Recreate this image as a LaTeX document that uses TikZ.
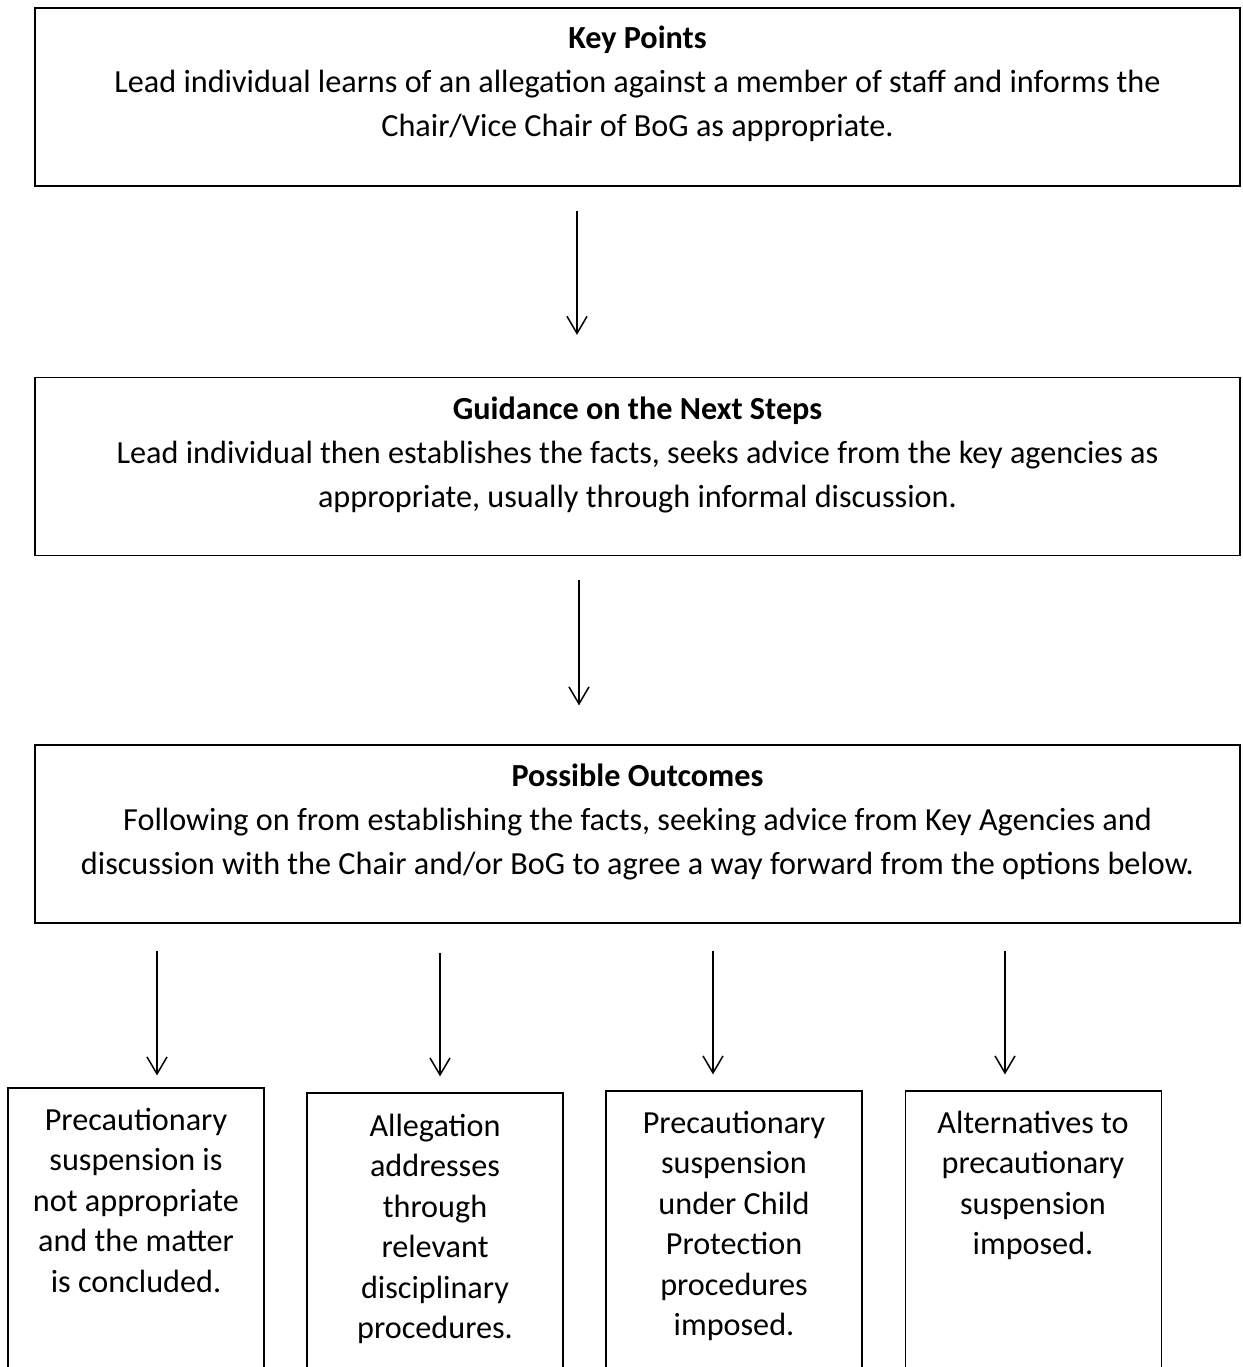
\documentclass[tikz,border=0pt]{standalone}
\usepackage{fontspec}
\setmainfont{Carlito}
\usetikzlibrary{arrows.meta}
\newcommand{\mylines}[1]{\begin{tabular}[t]{@{}c@{}}#1\end{tabular}}
\begin{document}
\begin{tikzpicture}[x=0.5pt,y=-0.5pt,
  bigbox/.style={draw=black,line width=0.65pt,minimum width=602.5pt,minimum height=89pt,inner sep=0pt},
  smallbox/.style={draw=black,line width=0.6pt,minimum width=128pt,minimum height=160pt,inner sep=0pt},
  txt/.style={anchor=base,inner sep=0pt,font=\fontsize{16.1pt}{22pt}\selectfont},
  txts/.style={anchor=base,inner sep=0pt,font=\fontsize{16.1pt}{20.25pt}\selectfont},
  arr/.style={line width=0.75pt,-{Straight Barb[length=8.5pt,width=10pt,line width=0.75pt]}}]
\useasboundingbox (0,0) rectangle (1243,1367);
\fill[white] (0,0) rectangle (1243,1367);
\clip (0,0) rectangle (1243,1367);

% column coordinates for connectors
\coordinate (ca) at (577,0);
\coordinate (cb) at (579,0);
\coordinate (c1) at (157,0);
\coordinate (c2) at (440,0);
\coordinate (c3) at (713,0);
\coordinate (c4) at (1005,0);

% main boxes
\node[bigbox] (b1) at (637.5,97) {};
\node[bigbox] (b2) at (637.5,466.5) {};
\node[bigbox] (b3) at (637.5,834) {};

\node[txt] (t1) at (637.5,48) {\mylines{\textbf{Key Points}\\Lead individual learns of an allegation against a member of staff and informs the\\Chair/Vice Chair of BoG as appropriate.}};
\node[txt] (t2) at (637.5,419) {\mylines{\textbf{Guidance on the Next Steps}\\Lead individual then establishes the facts, seeks advice from the key agencies as\\appropriate, usually through informal discussion.}};
\node[txt] (t3) at (637.5,786) {\mylines{\textbf{Possible Outcomes}\\Following on from establishing the facts, seeking advice from Key Agencies and\\discussion with the Chair and/or BoG to agree a way forward from the options below.}};

% outcome boxes (cut off by the bottom edge)
\node[smallbox] (o1) at (136,1248) {};
\node[smallbox] (o2) at (435,1253) {};
\node[smallbox] (o3) at (734,1251) {};
\node[smallbox] (o4) at (1033.5,1251) {};

\node[txts] (u1) at (136,1130) {\mylines{Precautionary\\suspension is\\not appropriate\\and the matter\\is concluded.}};
\node[txts] (u2) at (435,1136) {\mylines{Allegation\\addresses\\through\\relevant\\disciplinary\\procedures.}};
\node[txts] (u3) at (734,1133) {\mylines{Precautionary\\suspension\\under Child\\Protection\\procedures\\imposed.}};
\node[txts] (u4) at (1033,1133) {\mylines{Alternatives to\\precautionary\\suspension\\imposed.}};

% connectors
\draw[arr,shorten <=12pt,shorten >=21pt] (b1.south -| ca) -- (b2.north -| ca);
\draw[arr,shorten <=12pt,shorten >=19.5pt] (b2.south -| cb) -- (b3.north -| cb);
\draw[arr,shorten <=13.5pt,shorten >=6pt] (b3.south -| c1) -- (o1.north -| c1);
\draw[arr,shorten <=14.5pt,shorten >=8pt] (b3.south -| c2) -- (o2.north -| c2);
\draw[arr,shorten <=13.5pt,shorten >=8pt] (b3.south -| c3) -- (o3.north -| c3);
\draw[arr,shorten <=13.5pt,shorten >=8pt] (b3.south -| c4) -- (o4.north -| c4);
\end{tikzpicture}
\end{document}
